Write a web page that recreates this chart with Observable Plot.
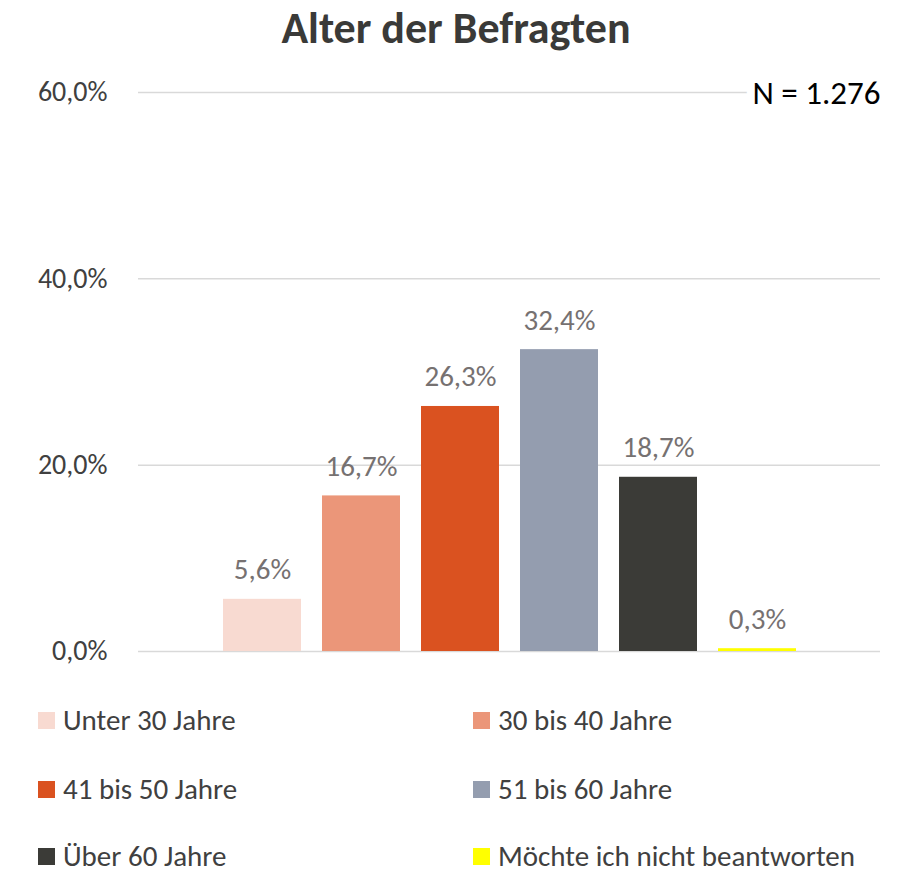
<!DOCTYPE html>
<html>
<head>
<meta charset="utf-8">
<script src="https://cdn.jsdelivr.net/npm/d3@7"></script>
<script src="https://cdn.jsdelivr.net/npm/@observablehq/plot@0.6"></script>
<style>
  html, body { margin: 0; padding: 0; background: #fff; }
  body { width: 912px; height: 872px; position: relative; overflow: hidden;
         font-family: Carlito, Lato, "Open Sans", sans-serif; }
  #title { position: absolute; left: 0; top: 0; width: 912px; text-align: center;
           font-size: 44px; font-weight: 700; color: #3a3a38; line-height: 56px; }
  #chart { position: absolute; left: 0; top: 60px; }
  #legend { position: absolute; left: 0; top: 0; width: 912px; height: 872px; }
  .item { position: absolute; display: flex; align-items: center; font-size: 29px; line-height: 1; color: #404040; height: 28px; }
  .sw { width: 17px; height: 17px; margin-right: 8px; flex: none; }
</style>
</head>
<body>
<div id="title">Alter der Befragten</div>
<div id="chart"></div>
<div id="legend"></div>
<script>
const categories = ["Unter 30 Jahre", "30 bis 40 Jahre", "41 bis 50 Jahre", "51 bis 60 Jahre", "Über 60 Jahre", "Möchte ich nicht beantworten"];
const values = [5.6, 16.7, 26.3, 32.4, 18.7, 0.3];
const colors = ["#F8DAD1", "#EB9679", "#DA5220", "#949DAF", "#3B3B37", "#FFFF00"];
const yTicks = [0, 20, 40, 60];
const sampleNote = "N = 1.276";

const data = categories.map((c, i) => ({category: c, value: values[i]}));
const fmt = d => d.toFixed(1).replace(".", ",") + "%";

const chart = Plot.plot({
  width: 912,
  height: 620,
  marginTop: 32,
  marginBottom: 29,
  marginLeft: 138,
  marginRight: 32,
  style: {fontFamily: "Carlito, Lato, 'Open Sans', sans-serif", fontSize: "28px", color: "#404040", background: "#fff"},
  x: {domain: categories, paddingInner: 0.215, paddingOuter: 0.84, axis: null},
  y: {domain: [0, 60], ticks: yTicks, tickFormat: fmt, tickSize: 0, tickPadding: 31, label: null},
  color: {domain: categories, range: colors},
  marks: [
    Plot.gridY(yTicks, {stroke: "#d9d9d9", strokeOpacity: 1, strokeWidth: 1.5}),
    Plot.barY(data, {x: "category", y: "value", fill: "category"}),
    Plot.text(data, {x: "category", y: "value", text: d => fmt(d.value), lineAnchor: "bottom", dy: -20, fill: "#767171", fontSize: 29}),
    Plot.text([sampleNote], {frameAnchor: "top-right", text: d => d, dy: 1, fontSize: 33, fill: "#000", stroke: "#fff", strokeWidth: 16, lineAnchor: "middle"})
  ]
});
document.getElementById("chart").appendChild(chart);

const legend = document.getElementById("legend");
const centers = [[38, 720], [473, 720], [38, 789], [473, 789], [38, 856], [473, 856]];
categories.forEach((c, i) => {
  const it = document.createElement("div");
  it.className = "item";
  it.style.left = centers[i][0] + "px";
  it.style.top = (centers[i][1] - 14) + "px";
  it.innerHTML = `<span class="sw" style="background:${colors[i]}"></span><span>${c}</span>`;
  legend.appendChild(it);
});
</script>
</body>
</html>
